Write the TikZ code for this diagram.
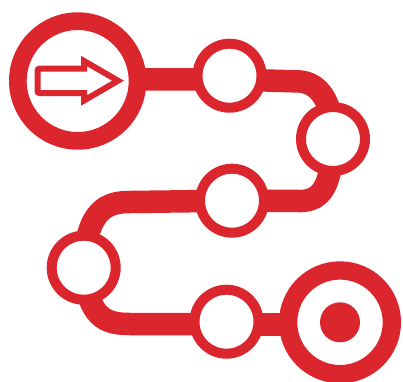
\documentclass[tikz,border=0pt]{standalone}
\usepackage{tikz}
\usetikzlibrary{backgrounds}
\definecolor{routeRed}{RGB}{220, 38, 46}
\tikzset{
  stopring/.style={circle, draw=routeRed, fill=white, line width=10pt, minimum size=64pt, inner sep=0pt, outer sep=0pt},
  startring/.style={circle, draw=routeRed, fill=white, line width=17.7pt, minimum size=119.7pt, inner sep=0pt, outer sep=0pt},
  goalring/.style={circle, draw=routeRed, fill=white, line width=18.3pt, minimum size=103.7pt, inner sep=0pt, outer sep=0pt},
  goaldot/.style={circle, fill=routeRed, minimum size=40pt, inner sep=0pt, outer sep=0pt},
  route/.style={routeRed, line width=22.5pt}
}
\begin{document}
\begin{tikzpicture}[x=1pt, y=-1pt]
        \useasboundingbox (0,0) rectangle (403,381);

        \node[startring] (start) at (77.7,81) {};
        \node[stopring] (stopA) at (229.5,75.7) {};
        \node[stopring] (stopB) at (333,139) {};
        \node[stopring] (stopC) at (232,200.7) {};
        \node[stopring] (stopD) at (83.7,267.7) {};
        \node[stopring] (stopE) at (226.5,321.7) {};
        \node[goalring] (goal) at (340,322.3) {};
        \node[goaldot] (bullseye) at (goal.center) {};

        \coordinate (bendZ) at (229.5,79.4);
        \coordinate (bendA) at (300,81.5);
        \coordinate (bendB) at (300,201);
        \coordinate (bendC) at (130,202);
        \coordinate (bendD) at (130,324);
        \coordinate (bendE) at (226.5,324.5);

        \begin{scope}[on background layer]
          \draw[route] (start.center |- bendZ) -- (bendZ) -- (bendA) .. controls (318,83) and (333,100) .. (stopB.center);
          \draw[route] (stopB.center) .. controls (332,185) and (322,201) .. (bendB) -- (stopC.center);
          \draw[route] (stopC.center) -- (bendC) .. controls (108,202) and (86,208) .. (stopD.center);
          \draw[route] (stopD.center) .. controls (88,318) and (105,324) .. (bendD) -- (stopE.center |- bendD);
          \draw[route] (bendE) -- (goal.center |- bendE);
        \end{scope}

        \draw[routeRed, line width=6pt, miter limit=10]
          (84,68.7) -- (84,61) -- (118,80.7) -- (84,100.5) -- (84,93)
          [rounded corners=2pt] -- (37.5,93) -- (37.5,68.7) [sharp corners] -- cycle;
      \end{tikzpicture}
\end{document}
